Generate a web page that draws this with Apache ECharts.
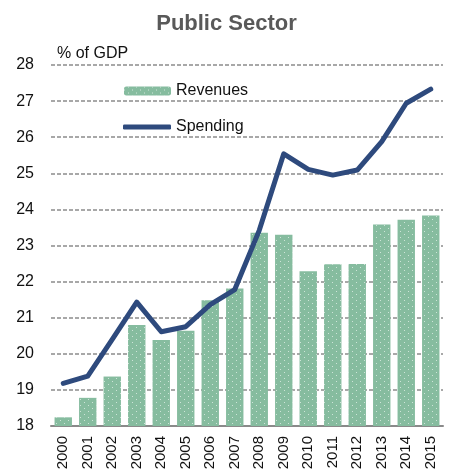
<!DOCTYPE html>
<html>
<head>
<meta charset="utf-8">
<script src="https://cdn.jsdelivr.net/npm/echarts@6/dist/echarts.min.js"></script>
<style>
  html, body { margin: 0; padding: 0; background: #fff; }
  #chart { width: 453px; height: 474px; }
</style>
</head>
<body>
<div id="chart"></div>
<script>
// Public sector revenues and spending, % of GDP
const years = ['2000', '2001', '2002', '2003', '2004', '2005', '2006', '2007',
               '2008', '2009', '2010', '2011', '2012', '2013', '2014', '2015'];
const revenues = [18.24, 18.78, 19.37, 20.80, 20.38, 20.64, 21.48, 21.81,
                  23.35, 23.30, 22.29, 22.48, 22.49, 23.58, 23.71, 23.83];
const spending = [19.18, 19.38, 20.40, 21.43, 20.61, 20.75, 21.36, 21.78,
                  23.42, 25.54, 25.11, 24.95, 25.09, 25.88, 26.94, 27.33];
const yTicks = [18, 19, 20, 21, 22, 23, 24, 25, 26, 27, 28];

const FONT = '"Liberation Sans", Arial, sans-serif';
const chart = echarts.init(document.getElementById('chart'), null, { renderer: 'canvas' });

const dotted = {
  symbol: 'rect',
  symbolSize: 1,
  color: 'rgba(255,255,255,0.6)',
  dashArrayX: [[1, 7], [0, 4, 1, 3]],
  dashArrayY: [1, 2],
  rotation: 0
};

chart.setOption({
  animation: false,
  backgroundColor: '#ffffff',
  title: {
    text: 'Public Sector',
    left: 'center',
    top: 8,
    textStyle: { fontFamily: FONT, fontSize: 22, fontWeight: 'bold', color: '#595959' }
  },
  legend: [
    {
      data: ['Revenues'],
      left: 124,
      top: 83,
      padding: 0,
      itemWidth: 47,
      itemHeight: 9,
      itemGap: 0,
      textStyle: { fontFamily: FONT, fontSize: 16, color: '#111' }
    },
    {
      data: [{ name: 'Spending', icon: 'roundRect' }],
      left: 123,
      top: 119,
      padding: 0,
      itemWidth: 48,
      itemHeight: 5,
      itemGap: 0,
      textStyle: { fontFamily: FONT, fontSize: 16, color: '#111' }
    }
  ],
  grid: { left: 51, right: 10, top: 65, bottom: 48, containLabel: false },
  xAxis: {
    type: 'category',
    data: years,
    axisLine: { lineStyle: { color: '#8a8a8a', width: 2 } },
    axisTick: { show: false },
    axisLabel: {
      rotate: 90,
      margin: 10,
      fontFamily: FONT,
      fontSize: 15,
      color: '#111',
      interval: 0
    }
  },
  yAxis: {
    type: 'value',
    min: yTicks[0],
    max: yTicks[yTicks.length - 1],
    interval: 1,
    name: '% of GDP',
    nameLocation: 'end',
    nameGap: 3,
    nameTextStyle: { fontFamily: FONT, fontSize: 16, color: '#111', align: 'left', padding: [0, 0, 0, 6] },
    axisLine: { show: false },
    axisTick: { show: false },
    axisLabel: { margin: 17, fontFamily: FONT, fontSize: 16, color: '#111' },
    splitLine: { lineStyle: { color: '#8c8c8c', width: 1.5, type: [4, 2] } }
  },
  series: [
    {
      name: 'Revenues',
      type: 'bar',
      data: revenues,
      barCategoryGap: '29%',
      itemStyle: { color: '#86bc9f', decal: dotted },
      z: 2
    },
    {
      name: 'Spending',
      type: 'line',
      data: spending,
      symbol: 'none',
      lineStyle: { color: '#2e4a7d', width: 5, cap: 'round', join: 'round' },
      itemStyle: { color: '#2e4a7d' },
      z: 3
    }
  ]
});
</script>
</body>
</html>
